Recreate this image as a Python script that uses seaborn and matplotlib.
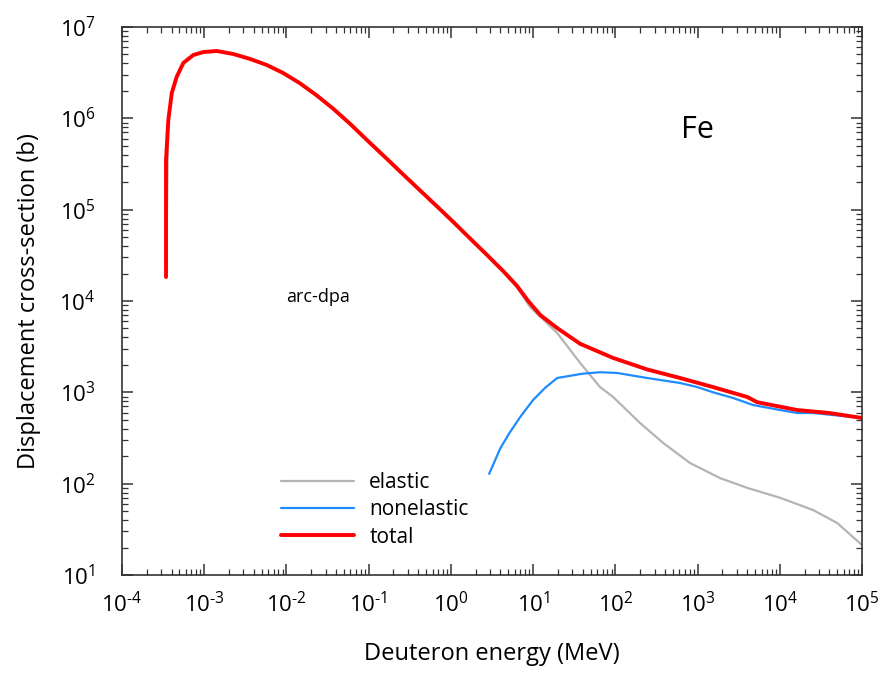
import matplotlib
matplotlib.use("Agg")
import matplotlib.pyplot as plt
import seaborn as sns
import numpy as np
from matplotlib.ticker import LogLocator, FixedLocator, NullFormatter

# ---- data ----
total_E = [3.43e-4, 3.43e-4, 3.66e-4, 4.03e-4, 4.62e-4, 5.57e-4, 7.36e-4, 9.75e-4, 1.42e-3,
           2.26e-3, 3.61e-3, 5.75e-3, 9.16e-3, 1.46e-2, 2.34e-2, 3.72e-2, 5.94e-2, 0.104,
           0.166, 0.264, 0.423, 0.675, 1.07, 1.71, 2.74, 4.36, 6.34, 8.8, 12.2, 19.6, 37.3,
           94, 244, 614, 1550, 4010, 5310, 16300, 40000, 1e5]
total_sigma = [1.83e4, 3.5e5, 9.6e5, 1.89e6, 2.84e6, 4.04e6, 4.93e6, 5.32e6, 5.46e6,
               5.06e6, 4.47e6, 3.84e6, 3.13e6, 2.42e6, 1.78e6, 1.27e6, 8.71e5, 5.37e5,
               3.61e5, 2.42e5, 1.62e5, 1.09e5, 7.33e4, 4.84e4, 3.20e4, 2.11e4, 1.47e4, 9900,
               7030, 5060, 3400, 2380, 1780, 1435, 1140, 890, 780, 640, 594, 524]

elastic_E = [3.43e-4, 3.66e-4, 4.03e-4, 4.62e-4, 5.57e-4, 7.36e-4, 9.75e-4, 1.42e-3,
             2.26e-3, 3.61e-3, 5.75e-3, 9.16e-3, 1.46e-2, 2.34e-2, 3.72e-2, 5.94e-2, 0.104,
             0.166, 0.264, 0.423, 0.675, 1.07, 1.71, 2.74, 4.36, 6.34, 9.2, 19.6, 37.3, 65.3,
             94, 200, 382, 813, 1880, 4010, 10100, 25500, 49900, 1e5]
elastic_sigma = [1.83e4, 9.6e5, 1.89e6, 2.84e6, 4.04e6, 4.93e6, 5.32e6, 5.46e6,
                 5.06e6, 4.47e6, 3.84e6, 3.13e6, 2.42e6, 1.78e6, 1.27e6, 8.71e5, 5.37e5,
                 3.61e5, 2.42e5, 1.62e5, 1.09e5, 7.33e4, 4.84e4, 3.17e4, 2.07e4, 1.42e4, 8590,
                 4470, 2100, 1140, 889, 461, 279, 168, 115, 90, 70, 51.4, 37.1, 21.3]

nonel_E = [2.92, 4.0, 5.25, 7.2, 10, 14, 19.6, 40, 65.3, 105, 244, 614, 989, 1550, 2710,
           4740, 10100, 16300, 25500, 1e5]
nonel_sigma = [128, 245, 368, 560, 824, 1120, 1435, 1600, 1660, 1630, 1435, 1265, 1143,
               1000, 867, 726, 640, 594, 594, 524]

x_ticks = [1e-4, 1e-3, 1e-2, 1e-1, 1e0, 1e1, 1e2, 1e3, 1e4, 1e5]
x_exponents = ["-4", "-3", "-2", "-1", "0", "1", "2", "3", "4", "5"]
y_ticks = [1e1, 1e2, 1e3, 1e4, 1e5, 1e6, 1e7]
y_exponents = ["1", "2", "3", "4", "5", "6", "7"]

# ---- style ----
sns.set_style("ticks")
plt.rcParams['font.family'] = ['Open Sans', 'DejaVu Sans']
plt.rcParams['text.color'] = 'black'
plt.rcParams['axes.labelcolor'] = 'black'
plt.rcParams['mathtext.fontset'] = 'custom'
plt.rcParams['mathtext.rm'] = 'Liberation Sans'
plt.rcParams['mathtext.it'] = 'Liberation Sans'
plt.rcParams['mathtext.default'] = 'regular'

fig = plt.figure(figsize=(8.87, 6.75), dpi=100)
ax = fig.add_axes([122/887, 1-575/675, 740/887, 548/675])

sns.lineplot(x=elastic_E, y=elastic_sigma, ax=ax, color="#b4b4b4", lw=1.6,
             estimator=None, sort=False, label="elastic")
sns.lineplot(x=nonel_E, y=nonel_sigma, ax=ax, color="#1e8cff", lw=1.6,
             estimator=None, sort=False, label="nonelastic")
sns.lineplot(x=total_E, y=total_sigma, ax=ax, color="#ff0000", lw=2.8,
             estimator=None, sort=False, label="total")

ax.set_xscale("log")
ax.set_yscale("log")
ax.set_xlim(1e-4, 1e5)
ax.set_ylim(1e1, 1e7)

def fmt(e):
    return r"$10^{%s}$" % e.replace("-", "\u2010")

ax.xaxis.set_major_locator(FixedLocator(x_ticks))
ax.yaxis.set_major_locator(FixedLocator(y_ticks))
ax.set_xticklabels([fmt(s) for s in x_exponents])
ax.set_yticklabels([fmt(s) for s in y_exponents])
ax.xaxis.set_minor_locator(LogLocator(base=10, subs=np.arange(2, 10), numticks=20))
ax.yaxis.set_minor_locator(LogLocator(base=10, subs=np.arange(2, 10), numticks=20))
ax.xaxis.set_minor_formatter(NullFormatter())
ax.yaxis.set_minor_formatter(NullFormatter())

ax.tick_params(which="both", direction="in", top=True, right=True, colors="#333333",
               labelcolor="black")
ax.tick_params(which="major", length=8, width=1.1, labelsize=16)
ax.tick_params(axis="x", which="major", pad=12)
ax.tick_params(axis="y", which="major", pad=19)
ax.tick_params(which="minor", length=4, width=0.9)
for s in ax.spines.values():
    s.set_color("#333333")
    s.set_linewidth(1.2)

ax.set_xlabel("Deuteron energy (MeV)", fontsize=17)
ax.set_ylabel("Displacement cross-section (b)", fontsize=17)
ax.xaxis.set_label_coords(0.5, -0.122)
ax.yaxis.set_label_coords(-0.11, 0.5)

fig.text(697/887, 1-130/675, "Fe", fontsize=22, ha="center", va="center")
ax.text((318-122)/740, 1-(297-27)/548, "arc-dpa", transform=ax.transAxes, fontsize=13,
        ha="center", va="center")

leg = ax.legend(loc="upper left", bbox_to_anchor=(0.19, 0.222), frameon=False, fontsize=15,
                handlelength=3.5, handletextpad=0.72, labelspacing=0.3)

fig.savefig("out.png", dpi=100)
